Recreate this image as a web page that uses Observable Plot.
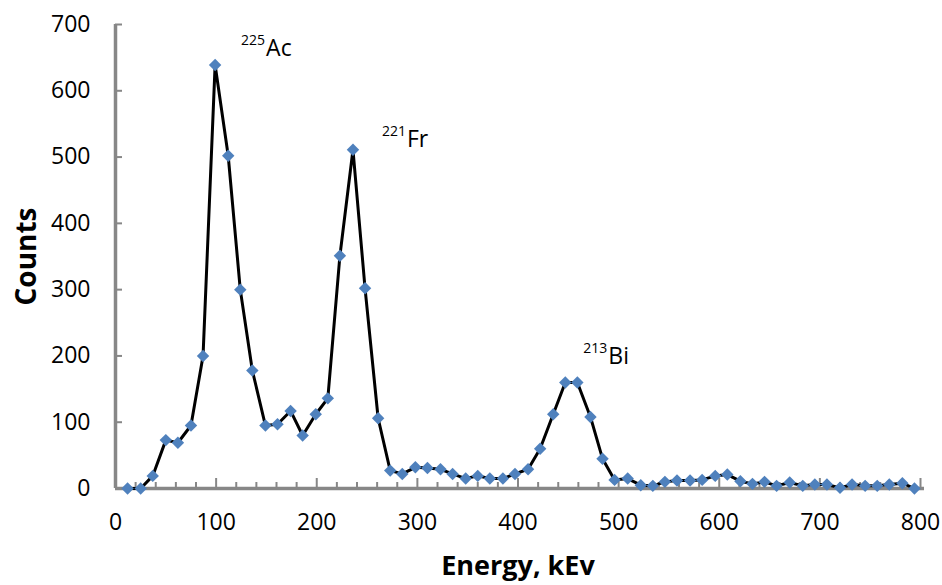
<!DOCTYPE html>
<html><head><meta charset="utf-8">
<script src="https://cdn.jsdelivr.net/npm/d3@7"></script>
<script src="https://cdn.jsdelivr.net/npm/@observablehq/plot@0.6"></script>
<style>
html,body{margin:0;padding:0;background:#fff;}
#chart{width:942px;height:585px;}
</style></head><body><div id="chart"></div>
<script>
// ---- data ----
const energy = [12, 25, 37, 50, 62, 75, 87, 99, 112, 124, 136, 149, 161, 174, 186, 199, 211, 223, 236, 248,
  261, 273, 285, 298, 310, 323, 335, 348, 360, 372, 385, 397, 410, 422, 435, 447, 459, 472, 484, 496,
  509, 522, 534, 546, 558, 571, 583, 596, 608, 621, 633, 645, 657, 670, 683, 695, 707, 720, 732, 745,
  757, 769, 782, 794];
const counts = [0, 0, 19, 73, 69, 95, 200, 639, 502, 300, 178, 95, 97, 117, 80, 112, 136, 351, 511, 302,
  106, 27, 22, 32, 31, 29, 22, 15, 19, 15, 15, 22, 29, 60, 112, 160, 160, 108, 45, 13,
  15, 5, 4, 10, 12, 12, 13, 19, 21, 11, 7, 10, 4, 9, 4, 6, 6, 1, 6, 4,
  4, 6, 8, 0];
const yTicks = [0, 100, 200, 300, 400, 500, 600, 700];
const xTicks = [0, 100, 200, 300, 400, 500, 600, 700, 800];
const xMinorTicks = [20, 40, 60, 80, 120, 140, 160, 180, 220, 240, 260, 280, 320, 340, 360, 380,
  420, 440, 460, 480, 520, 540, 560, 580, 620, 640, 660, 680, 720, 740, 760, 780];
const peakIsotope = ["225", "221", "213"];
const peakElement = ["Ac", "Fr", "Bi"];
const peakEnergy = [99, 236, 459];
const xTitle = "Energy, kEv";
const yTitle = "Counts";

// ---- styles ----
const FONT = "'Open Sans', 'DejaVu Sans', sans-serif";
const AXIS = "#878787";
const labelOffsets = {Ac: {dx: 51, dy: -9}, Fr: {dx: 54, dy: -3}, Bi: {dx: 31, dy: -18}};

const data = energy.map((e, i) => ({energy: e, counts: counts[i]}));
const peaks = peakEnergy.map((e, i) => {
  const d = data.find(p => p.energy === e);
  return {energy: d.energy, counts: d.counts, iso: peakIsotope[i], el: peakElement[i]};
});

const labelMarks = peaks.flatMap(p => {
  const o = labelOffsets[p.el];
  return [
    Plot.text([p], {x: "energy", y: "counts", text: "el", dx: o.dx, dy: o.dy,
      textAnchor: "start", lineAnchor: "bottom", fontSize: 23, fill: "#000"}),
    Plot.text([p], {x: "energy", y: "counts", text: "iso", dx: o.dx - 1, dy: o.dy - 11,
      textAnchor: "end", lineAnchor: "bottom", fontSize: 14, fill: "#000"})
  ];
});

const chart = Plot.plot({
  width: 942,
  height: 585,
  marginLeft: 115,
  marginRight: 22,
  marginTop: 24,
  marginBottom: 97,
  style: {fontFamily: FONT, background: "#fff", color: "#000"},
  x: {domain: [0, 800]},
  y: {domain: [0, 700]},
  marks: [
    // tick marks (inward)
    Plot.axisY({ticks: yTicks, tickSize: -7, stroke: AXIS, strokeWidth: 2, fill: "none", label: null}),
    Plot.axisX({ticks: xTicks, tickSize: -10, stroke: AXIS, strokeWidth: 2, fill: "none", label: null}),
    Plot.axisX({ticks: xMinorTicks, tickSize: -6, stroke: AXIS, strokeWidth: 2, fill: "none", label: null}),
    // tick labels
    Plot.axisY({ticks: yTicks, tickSize: 0, tickPadding: 25, fontSize: 23, fill: "#000", label: null}),
    Plot.axisX({ticks: xTicks, tickSize: 0, tickPadding: 25, fontSize: 23, fill: "#000", label: null}),
    // axis lines
    Plot.ruleX([0], {stroke: AXIS, strokeWidth: 3.5}),
    Plot.ruleY([0], {stroke: AXIS, strokeWidth: 3.5, insetRight: -4}),
    // series
    Plot.line(data, {x: "energy", y: "counts", stroke: "#000", strokeWidth: 3, curve: "linear"}),
    Plot.dot(data, {x: "energy", y: "counts", symbol: "diamond2", r: 5.6, fill: "#4F81BD", stroke: "none"}),
    // annotations
    ...labelMarks,
    // axis titles
    Plot.text([xTitle], {frameAnchor: "bottom", text: d => d, dy: 86, lineAnchor: "bottom",
      textAnchor: "middle", fontSize: 27, fontWeight: "bold", fill: "#000"}),
    Plot.text([yTitle], {frameAnchor: "left", text: d => d, dx: -80, rotate: -90, lineAnchor: "bottom",
      textAnchor: "middle", fontSize: 28, fontWeight: "bold", fill: "#000"})
  ]
});
document.getElementById("chart").appendChild(chart);
</script>
</body></html>
